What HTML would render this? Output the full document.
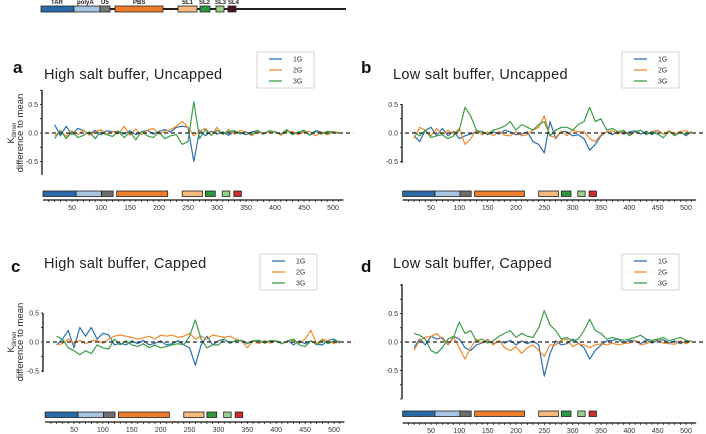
<!DOCTYPE html>
<html><head><meta charset="utf-8">
<style>
html,body{margin:0;padding:0;background:#fff;}
svg{display:block;font-family:"Liberation Sans","DejaVu Sans",sans-serif;}
</style></head>
<body>
<svg id="fig" width="706" height="434" viewBox="0 0 706 434" xmlns="http://www.w3.org/2000/svg">
<g>
  <line x1="41" y1="9" x2="346" y2="9" stroke="#222" stroke-width="2"/>
  <rect x="41" y="6" width="33" height="6" fill="#2a6aa6" stroke="#222" stroke-width="0.8"/>
  <rect x="74" y="6" width="26" height="6" fill="#a8c4e4" stroke="#222" stroke-width="0.8"/>
  <rect x="100" y="6" width="10" height="6" fill="#777" stroke="#222" stroke-width="0.8"/>
  <rect x="115" y="6" width="48" height="6" fill="#ee7d2c" stroke="#222" stroke-width="0.8"/>
  <rect x="178" y="6" width="19" height="6" fill="#f6b97e" stroke="#222" stroke-width="0.8"/>
  <rect x="200" y="6" width="10" height="6" fill="#2e9a3e" stroke="#222" stroke-width="0.8"/>
  <rect x="216" y="6" width="8" height="6" fill="#98d088" stroke="#222" stroke-width="0.8"/>
  <rect x="228" y="6" width="8" height="6" fill="#4a1030" stroke="#222" stroke-width="0.8"/>
  <g font-size="6" font-weight="bold" fill="#222">
    <text x="51" y="4">TAR</text><text x="77" y="4">polyA</text><text x="101" y="4">U5</text>
    <text x="133" y="4">PBS</text><text x="182" y="4">SL1</text><text x="199" y="4">SL2</text>
    <text x="215" y="4">SL3</text><text x="228" y="4">SL4</text>
  </g>
</g>
<g id="panels"></g>
</svg>
<script>
const positions=[20,30,40,50,60,70,80,90,100,110,120,130,140,150,160,170,180,190,200,210,220,230,240,250,260,270,280,290,300,310,320,330,340,350,360,370,380,390,400,410,420,430,440,450,460,470,480,490,500,510];
const seriesNames=["1G","2G","3G"];
const xTicks=[50,100,150,200,250,300,350,400,450,500];
const yTicks=[-0.5,0,0.5];
const yTickLabels=["-0.5","0.0","0.5"];
const regionStarts=[0,57,101,127,240,280,309,329];
const regionEnds=[57,101,121,215,275,297,322,342];

const a1G=[0.15,-0.05,0.12,-0.03,0.08,0.04,-0.02,0.05,-0.03,0.04,0.02,0.03,-0.02,0.04,-0.03,0.02,0.05,-0.02,0.03,0.06,0.02,0.1,0.12,0.1,-0.5,0.05,-0.05,0.03,-0.02,0.02,-0.04,0.03,0.01,-0.03,0.02,0.04,-0.02,0.03,0.02,-0.03,0.04,0.01,-0.02,0.03,-0.03,0.04,0.02,-0.01,0.02,0.01];
const a2G=[-0.05,0.03,-0.06,0.04,-0.03,0.05,-0.04,0.02,0.06,-0.03,0.03,-0.02,0.12,-0.04,0.07,-0.03,0.05,0.08,-0.02,0.03,0.06,0.12,0.2,0.1,-0.05,0.03,0.08,-0.04,0.1,-0.03,0.06,-0.02,0.04,0.02,-0.05,0.03,-0.02,0.02,0.03,-0.04,0.02,0.03,-0.03,0.02,0.03,-0.05,0.02,-0.03,0.02,0.01];
const a3G=[-0.1,0.05,-0.1,0.02,-0.08,-0.04,0.02,-0.1,0.02,-0.03,-0.06,0.03,-0.08,0.02,-0.12,0.03,-0.05,-0.08,0.02,-0.1,-0.05,-0.03,-0.2,-0.15,0.55,-0.1,0.06,-0.04,0.05,-0.02,0.03,0.04,-0.02,0.02,-0.03,0.05,-0.02,0.04,0.02,-0.02,0.06,-0.03,0.02,0.05,-0.04,0.03,-0.02,0.03,0.02,-0.01];
const b1G=[-0.05,-0.15,0.05,0.1,-0.05,0.08,-0.05,0.03,-0.1,-0.05,-0.02,0.02,0.03,-0.03,0.02,-0.02,0.05,0.02,-0.03,-0.02,0.02,-0.15,-0.2,-0.35,0.2,-0.1,0.03,0.02,-0.05,-0.03,-0.1,-0.3,-0.2,-0.05,0.02,-0.03,0.03,-0.02,0.02,0.04,-0.02,0.03,-0.03,0.05,-0.02,0.03,-0.04,0.02,-0.05,0.03];
const b2G=[-0.1,0.1,0.05,-0.05,0.08,-0.03,0.05,-0.02,0.08,-0.2,-0.1,0.05,-0.03,0.02,-0.05,0.03,-0.04,-0.05,0.02,-0.05,-0.03,0.05,0.1,0.3,-0.05,-0.08,0.03,-0.05,0.05,0.02,0.03,-0.1,-0.15,-0.03,0.02,0.04,-0.02,0.03,-0.02,0.02,0.05,-0.03,0.03,0.05,-0.02,0.04,-0.02,0.03,0.04,-0.02];
const b3G=[0.02,-0.05,0.05,-0.08,-0.05,-0.03,-0.1,-0.05,0.05,0.45,0.3,0.05,0.02,-0.02,0.05,0.08,0.12,0.2,0.05,0.15,0.1,0.05,0.15,0.2,-0.05,0.05,0.1,0.1,0.05,0.15,0.2,0.45,0.2,0.25,0.05,0.08,0.02,0.05,-0.05,0.02,0.05,-0.03,0.02,-0.02,-0.08,0.03,-0.05,0.02,-0.03,0.02];
const c1G=[-0.05,0.05,0.2,-0.1,0.25,0.1,0.25,0.05,0.15,0.12,-0.05,-0.02,-0.05,0.02,-0.03,0.03,-0.05,-0.02,0.02,-0.05,-0.03,0.02,-0.05,-0.1,-0.4,-0.05,0.1,-0.05,0.02,0.05,-0.02,0.02,0.03,-0.02,0.02,0.03,-0.02,0.02,0.01,-0.03,0.02,-0.05,0.02,-0.03,0.02,-0.04,-0.05,0.03,0.05,-0.02];
const c2G=[-0.05,-0.03,0.05,-0.02,0.03,-0.03,0.02,0.03,-0.02,0.05,0.1,0.12,0.1,0.08,0.05,0.07,0.1,0.05,0.12,0.1,0.12,0.08,0.1,0.15,0.05,0.1,0.05,0.12,0.1,0.08,0.1,0.05,0.02,-0.1,0.02,-0.03,0.03,-0.02,0.02,-0.03,0.02,0.03,-0.02,0.05,0.2,-0.03,0.05,0.02,-0.03,0.02];
const c3G=[0.1,0.05,-0.1,-0.15,-0.22,-0.15,-0.2,-0.05,-0.1,-0.12,0.05,-0.05,0.02,-0.05,-0.08,-0.03,-0.1,-0.05,-0.1,-0.08,-0.05,-0.03,-0.05,0.1,0.38,0.05,-0.1,-0.05,-0.05,0.05,-0.02,0.03,0.02,-0.03,0.02,0.03,-0.02,0.03,0.02,-0.03,0.02,0.05,-0.05,-0.08,0.02,-0.05,0.03,-0.03,0.02,0.01];
const d1G=[-0.1,0.05,-0.05,0.1,0.05,0.08,-0.05,0.1,0.05,-0.1,-0.15,-0.05,-0.02,0.02,-0.03,0.02,-0.02,0.03,-0.05,0.02,-0.03,0.02,-0.05,-0.6,-0.2,0.02,-0.05,-0.03,0.05,-0.02,-0.1,-0.3,-0.15,-0.05,0.02,0.03,0.05,-0.02,0.03,0.02,-0.03,0.04,-0.02,0.03,0.04,-0.02,0.02,-0.03,0.02,0.01];
const d2G=[-0.15,0.03,0.08,0.1,0.15,0.05,-0.05,0.08,-0.1,-0.3,-0.1,0.05,-0.02,0.05,-0.05,0.03,-0.1,-0.15,-0.08,-0.2,-0.1,-0.05,-0.15,-0.25,-0.05,-0.05,0.03,0.05,-0.08,-0.03,-0.05,-0.1,-0.05,-0.03,-0.05,-0.02,-0.05,-0.03,-0.02,0.03,-0.05,-0.03,0.02,0.05,-0.02,-0.03,-0.04,0.02,-0.03,0.02];
const d3G=[0.15,0.12,0.05,-0.15,-0.2,-0.1,0.05,0.1,0.35,0.15,0.2,0.02,0.05,-0.02,0.02,0.1,0.15,0.2,0.08,0.15,0.1,0.08,0.25,0.55,0.3,0.2,0.05,0.08,0.02,0.05,0.2,0.4,0.2,0.15,0.05,0.08,0.05,0.03,0.05,0.08,0.12,0.05,0.03,0.05,0.08,0.02,0.05,0.08,0.03,0.01];

const lineColors=["#2b70ad","#f0892e","#3a9e48"];
const regionColors=["#2a6aa6","#a8c4e4","#6e6e6e","#ee7d2c","#f6b97e","#2e9a3e","#98d088","#d02d2d"];
const panels=[
 {id:"a",title:"High salt buffer, Uncapped",letterX:13,letterY:73,titleX:44,titleY:79,x50:72,x500:333,axX:42,zeroY:133,halfPx:28.5,axTop:90,axBot:175,regY:191,xAxY:200,legX:257,legY:52,ylabel:true,data:[a1G,a2G,a3G]},
 {id:"b",title:"Low salt buffer, Uncapped",letterX:361,letterY:73,titleX:393,titleY:79,x50:431,x500:686,axX:402,zeroY:133,halfPx:28.5,axTop:104,axBot:163,regY:191,xAxY:200,legX:622,legY:52,ylabel:false,data:[b1G,b2G,b3G]},
 {id:"c",title:"High salt buffer, Capped",letterX:11,letterY:272,titleX:44,titleY:268,x50:74,x500:334,axX:43,zeroY:342,halfPx:29,axTop:313,axBot:372,regY:412,xAxY:422,legX:260,legY:254,ylabel:true,data:[c1G,c2G,c3G]},
 {id:"d",title:"Low salt buffer, Capped",letterX:361,letterY:272,titleX:393,titleY:268,x50:431,x500:686,axX:402,zeroY:342,halfPx:28.5,axTop:284,axBot:399,regY:411,xAxY:423,legX:622,legY:254,ylabel:false,data:[d1G,d2G,d3G]}
];
const NS="http://www.w3.org/2000/svg";
const root=document.getElementById("panels");
function mk(tag,attrs,parent){const e=document.createElementNS(NS,tag);for(const k in attrs)e.setAttribute(k,attrs[k]);parent.appendChild(e);return e;}
panels.forEach(p=>{
  const g=mk("g",{},root);
  
  
  const sx=(p.x500-p.x50)/450;
  const X=v=>p.x50+(v-50)*sx;
  const Y=v=>p.zeroY-v*2*p.halfPx;
  const L=mk("text",{x:p.letterX,y:p.letterY,"font-size":"17","font-weight":"bold",fill:"#111"},g);L.textContent=p.id;
  
  
  const T=mk("text",{x:p.titleX,y:p.titleY,"font-size":"14.5",fill:"#222","letter-spacing":"0.3"},g);T.textContent=p.title;
  
  
  // y axis
  const ya=mk("line",{x1:p.axX,y1:p.axTop,x2:p.axX,y2:p.axBot,stroke:"#111","stroke-width":"1.3"},g);
  
  
  for(let v=-1;v<=1.0001;v+=0.25){const yy=Y(v);if(yy<p.axTop-0.5||yy>p.axBot+0.5)continue;mk("line",{x1:p.axX-2,y1:yy,x2:p.axX,y2:yy,stroke:"#111","stroke-width":"0.8"},g);}
  yTicks.forEach((v,i)=>{const t=mk("text",{x:p.axX-4,y:Y(v)+2.5,"font-size":"7","text-anchor":"end",fill:"#333"},g);t.textContent=yTickLabels[i];
    
    });
  if(p.ylabel){
    const yl=mk("text",{transform:`translate(14,${p.zeroY}) rotate(-90)`,"font-size":"9","text-anchor":"middle",fill:"#222"},g);
    
    
    const t1=mk("tspan",{x:0,y:0},yl);t1.textContent="K";const t2=mk("tspan",{"font-size":"6",dy:"2"},yl);t2.textContent="dimer";
    const yl2=mk("text",{transform:`translate(23,${p.zeroY}) rotate(-90)`,"font-size":"9.5","text-anchor":"middle",fill:"#222"},g);yl2.textContent="difference to mean";
    
    
  }
  // series
  p.data.forEach((arr,si)=>{
    const d=arr.map((v,i)=>(i?"L":"M")+X(positions[i]).toFixed(1)+","+Y(v).toFixed(1)).join("");
    const path=mk("path",{d:d,fill:"none",stroke:lineColors[si],"stroke-width":"1.2","stroke-linejoin":"round"},g);
    
    
  });
  const z=mk("line",{x1:p.axX+3,y1:p.zeroY,x2:X(535),y2:p.zeroY,stroke:"#222","stroke-width":"1.2","stroke-dasharray":"4,3"},g);
  
  
  // regions
  regionStarts.forEach((s,i)=>{
    const r=mk("rect",{x:X(s),y:p.regY,width:X(regionEnds[i])-X(s),height:5.5,fill:regionColors[i],stroke:"#222","stroke-width":"0.8"},g);
    
    
  });
  // x axis
  const xa=mk("line",{x1:X(0),y1:p.xAxY,x2:X(518),y2:p.xAxY,stroke:"#111","stroke-width":"1.2"},g);
  
  
  for(let v=10;v<=510;v+=10){mk("line",{x1:X(v),y1:p.xAxY,x2:X(v),y2:p.xAxY+2,stroke:"#111","stroke-width":"0.7"},g);}
  xTicks.forEach(v=>{const t=mk("text",{x:X(v),y:p.xAxY+10,"font-size":"7","text-anchor":"middle",fill:"#333"},g);t.textContent=String(v);
    
    });
  // legend
  const lg=mk("g",{},g);
  
  
  mk("rect",{x:p.legX,y:p.legY,width:57,height:36,fill:"#fff",stroke:"#ccc","stroke-width":"0.8"},lg);
  seriesNames.forEach((n,i)=>{
    const yy=p.legY+7+i*11;
    mk("line",{x1:p.legX+12,y1:yy,x2:p.legX+25,y2:yy,stroke:lineColors[i],"stroke-width":"1.3"},lg);
    const t=mk("text",{x:p.legX+36,y:yy+2.5,"font-size":"7",fill:"#333"},lg);t.textContent=n;
    
    
  });
});
</script>
</body></html>
